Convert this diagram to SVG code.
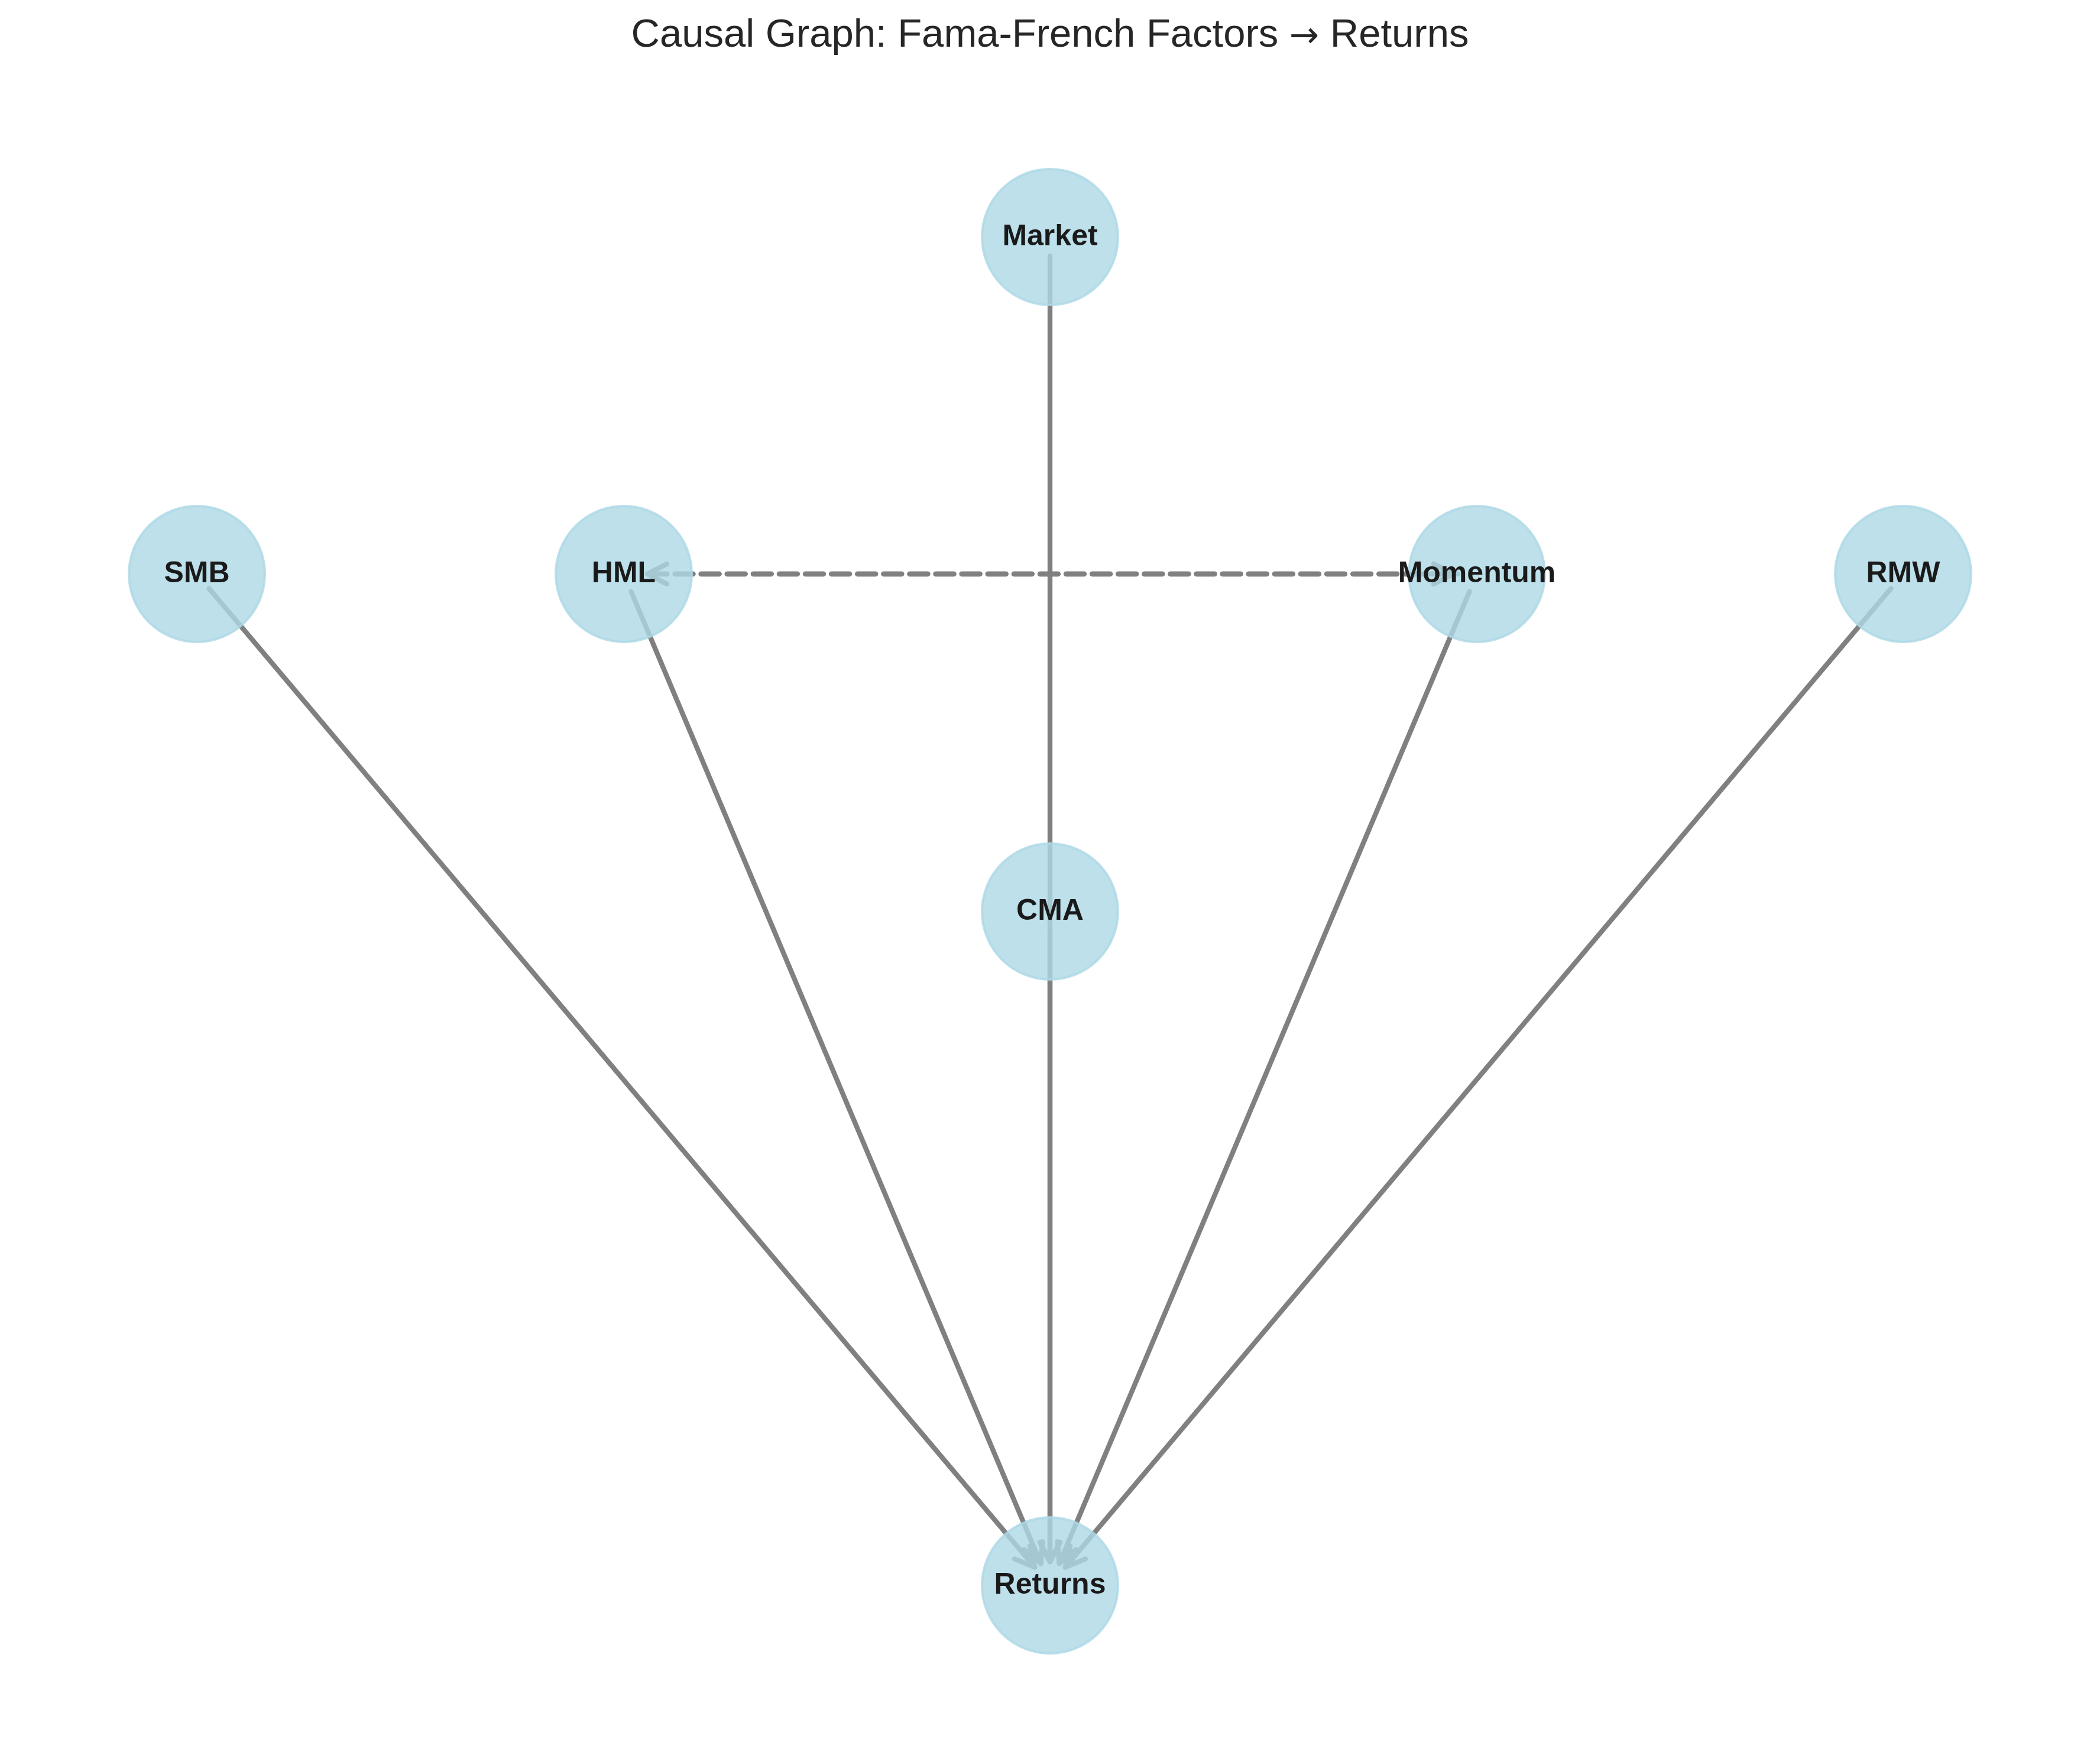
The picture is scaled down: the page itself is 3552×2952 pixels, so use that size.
<svg xmlns="http://www.w3.org/2000/svg" width="3552" height="2952" viewBox="0 0 3552 2952">
<style>
.edge{fill:none;stroke:#808080;stroke-width:8.33;stroke-linecap:round;stroke-linejoin:round}
.dashed{stroke-dasharray:30.8 13.3}
.node circle{fill:#add8e6;fill-opacity:0.8;stroke:#add8e6;stroke-opacity:0.8;stroke-width:4}
.node text{font-family:"Liberation Sans",Arial,Helvetica,sans-serif;font-weight:bold;font-size:50px;fill:#1a1a1a;text-anchor:middle}
.title{font-family:"Liberation Sans",Arial,Helvetica,sans-serif;font-size:67px;fill:#262626;text-anchor:middle}
.arrowglyph{font-family:"DejaVu Sans",sans-serif;font-size:60px}
</style>
<defs>
<marker id="arr" markerUnits="userSpaceOnUse" viewBox="-50 -30 60 60" refX="0" refY="0" markerWidth="60" markerHeight="60" orient="auto" overflow="visible">
<path d="M-33,-17 L0,0 L-33,17" fill="none" stroke="#808080" stroke-width="8.33" stroke-linecap="round" stroke-linejoin="round" stroke-dasharray="none"/>
</marker>
</defs>
<rect x="0" y="0" width="3552" height="2952" fill="#ffffff"/>
<text class="title" x="1776" y="79">Causal Graph: Fama-French Factors <tspan class="arrowglyph">→</tspan> Returns</text>
<g id="connectors">
<line id="e-smb-returns" class="edge" x1="353.6" y1="995.5" x2="1750.2" y2="2651.4" marker-end="url(#arr)"/>
<line id="e-hml-returns" class="edge" x1="1067.4" y1="1000.5" x2="1760.5" y2="2645.1" marker-end="url(#arr)"/>
<line id="e-market-returns" class="edge" x1="1776" y1="433" x2="1776" y2="2642" marker-end="url(#arr)"/>
<line id="e-cma-returns" class="edge" x1="1776" y1="1574" x2="1776" y2="2642" marker-end="url(#arr)"/>
<line id="e-momentum-returns" class="edge" x1="2485.6" y1="1000.5" x2="1791.6" y2="2645.1" marker-end="url(#arr)"/>
<line id="e-rmw-returns" class="edge" x1="3198.4" y1="995.5" x2="1801.8" y2="2651.4" marker-end="url(#arr)"/>
<line id="e-hml-momentum" class="edge dashed" style="stroke-dashoffset:33.6" x1="1087" y1="971" x2="2458" y2="971" marker-end="url(#arr)"/>
<line id="e-momentum-hml" class="edge dashed" style="stroke-dashoffset:29.4" x1="2466" y1="971" x2="1095" y2="971" marker-end="url(#arr)"/>
</g>
<g id="node-market" class="node"><circle cx="1776" cy="401" r="115"/><text x="1776" y="415">Market</text></g>
<g id="node-smb" class="node"><circle cx="333" cy="971" r="115"/><text x="333" y="985">SMB</text></g>
<g id="node-hml" class="node"><circle cx="1055" cy="971" r="115"/><text x="1055" y="985">HML</text></g>
<g id="node-momentum" class="node"><circle cx="2498" cy="971" r="115"/><text x="2498" y="985">Momentum</text></g>
<g id="node-rmw" class="node"><circle cx="3219" cy="971" r="115"/><text x="3219" y="985">RMW</text></g>
<g id="node-cma" class="node"><circle cx="1776" cy="1542" r="115"/><text x="1776" y="1556">CMA</text></g>
<g id="node-returns" class="node"><circle cx="1776" cy="2682" r="115"/><text x="1776" y="2696">Returns</text></g>
</svg>
